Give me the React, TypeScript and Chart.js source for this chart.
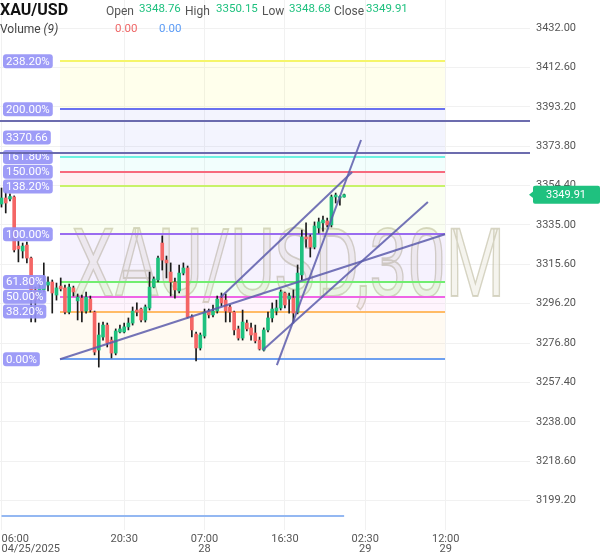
import { useEffect, useRef } from 'react';
import { Chart, registerables } from 'chart.js';
Chart.register(...registerables);

const opens = [3345.3, 3348.3, 3347.8, 3348.8, 3324.6, 3322.2, 3325.1, 3318.7, 3303.0, 3299.5,
  3303.0, 3305.4, 3306.9, 3300.5, 3304.9, 3304.0, 3292.1, 3304.0, 3297.6, 3299.0,
  3292.6, 3298.5, 3292.1, 3273.4, 3279.8, 3285.7, 3278.3, 3271.9, 3282.3, 3282.3,
  3284.8, 3286.7, 3293.1, 3293.6, 3288.2, 3294.1, 3304.4, 3307.9, 3326.1, 3317.7,
  3311.8, 3306.9, 3302.5, 3311.3, 3313.8, 3289.7, 3281.3, 3274.4, 3280.3, 3292.6,
  3290.7, 3292.6, 3299.0, 3298.0, 3294.6, 3292.1, 3283.8, 3279.3, 3286.7, 3284.3,
  3281.8, 3278.3, 3273.4, 3283.3, 3289.2, 3292.6, 3294.1, 3301.5, 3298.5, 3299.0,
  3292.1, 3310.4, 3329.1, 3329.1, 3324.1, 3333.5, 3336.0, 3337.0, 3335.0, 3348.8,
  3348.3, 3348.76];
const closes = [3348.3, 3345.8, 3349.0, 3322.7, 3323.2, 3324.6, 3318.7, 3303.0, 3298.0, 3304.0,
  3306.4, 3306.9, 3301.5, 3304.0, 3303.5, 3292.1, 3304.4, 3302.0, 3299.5, 3292.6,
  3299.5, 3293.1, 3272.4, 3280.8, 3285.7, 3276.9, 3271.9, 3282.8, 3283.8, 3284.8,
  3286.7, 3292.6, 3292.1, 3288.2, 3294.6, 3304.4, 3308.4, 3318.7, 3317.7, 3316.3,
  3306.9, 3303.0, 3311.3, 3313.8, 3289.7, 3283.3, 3274.4, 3280.8, 3292.1, 3290.7,
  3292.6, 3298.5, 3296.6, 3292.6, 3292.1, 3283.3, 3279.3, 3287.2, 3283.8, 3280.8,
  3277.9, 3273.9, 3283.3, 3289.2, 3293.6, 3294.1, 3302.0, 3295.6, 3300.0, 3291.6,
  3311.3, 3329.1, 3328.1, 3324.1, 3334.5, 3336.5, 3337.4, 3335.0, 3348.8, 3349.75,
  3349.0, 3349.91];
const highs = [3353.2, 3351.2, 3350.3, 3349.3, 3327.1, 3326.1, 3326.6, 3319.2, 3304.4, 3305.4,
  3316.3, 3309.4, 3307.9, 3306.4, 3308.9, 3305.4, 3305.9, 3304.9, 3301.0, 3300.5,
  3302.0, 3300.0, 3292.6, 3286.7, 3287.2, 3286.7, 3279.8, 3283.8, 3285.7, 3286.7,
  3289.2, 3294.6, 3296.6, 3294.1, 3295.6, 3311.8, 3309.4, 3319.7, 3329.6, 3319.7,
  3316.3, 3308.9, 3315.3, 3316.3, 3314.8, 3290.7, 3282.3, 3281.8, 3293.6, 3293.6,
  3295.6, 3300.0, 3301.5, 3301.0, 3295.6, 3292.6, 3285.2, 3293.1, 3288.2, 3286.7,
  3285.7, 3279.8, 3284.3, 3292.1, 3296.6, 3298.0, 3303.0, 3302.0, 3301.5, 3303.0,
  3315.3, 3332.5, 3336.0, 3330.1, 3336.5, 3338.4, 3339.4, 3338.4, 3349.75, 3350.7,
  3349.3, 3350.15];
const lows = [3343.8, 3340.9, 3346.8, 3321.7, 3316.8, 3318.7, 3316.3, 3287.2, 3287.2, 3298.0,
  3302.0, 3302.5, 3291.6, 3298.0, 3302.5, 3291.2, 3291.2, 3300.0, 3288.2, 3287.2,
  3291.6, 3292.1, 3271.0, 3265.0, 3278.3, 3274.9, 3269.5, 3271.0, 3281.8, 3281.8,
  3283.3, 3285.7, 3290.2, 3287.2, 3287.2, 3293.1, 3304.0, 3306.9, 3312.8, 3308.9,
  3300.0, 3299.0, 3301.5, 3310.4, 3289.2, 3279.8, 3268.0, 3273.4, 3279.3, 3289.2,
  3289.7, 3291.6, 3295.1, 3287.2, 3287.2, 3280.8, 3278.3, 3278.3, 3282.8, 3278.3,
  3276.9, 3273.4, 3272.9, 3282.3, 3287.2, 3290.7, 3293.1, 3294.1, 3291.6, 3286.7,
  3291.2, 3307.9, 3324.1, 3319.2, 3323.2, 3331.0, 3332.0, 3334.0, 3334.0, 3345.8,
  3344.8, 3348.68];
const volumes = [0, 0, 0, 0, 0, 0, 0, 0, 0, 0, 0, 0, 0, 0, 0, 0, 0, 0, 0, 0,
  0, 0, 0, 0, 0, 0, 0, 0, 0, 0, 0, 0, 0, 0, 0, 0, 0, 0, 0, 0,
  0, 0, 0, 0, 0, 0, 0, 0, 0, 0, 0, 0, 0, 0, 0, 0, 0, 0, 0, 0,
  0, 0, 0, 0, 0, 0, 0, 0, 0, 0, 0, 0, 0, 0, 0, 0, 0, 0, 0, 0, 0, 0];

const timeTickIndex = [0, 29, 48, 67, 86, 105];
const timeTickLabels = [['06:00', '04/25/2025'], '20:30', ['07:00', '28'], '16:30', ['02:30', '29'], ['12:00', '29']];
const priceTicks = [3199.2, 3218.6, 3238.0, 3257.4, 3276.8, 3296.2, 3315.6, 3335.0, 3354.4, 3373.8, 3393.2, 3412.6, 3432.0];

const fibStart = { index: 13.83, price: 3268.84 };
const fibEnd = { index: 104.85, price: 3330.44 };
const fibLevels = [0, 0.382, 0.5, 0.618, 1, 1.382, 1.5, 1.618, 2, 2.382];
const fibLabels = ['0.00%', '38.20%', '50.00%', '61.80%', '100.00%', '138.20%', '150.00%', '161.80%', '200.00%', '238.20%'];
const fibLineColors = ['#6ea0f0', '#ffbb66', '#ee66e6', '#70ee70', '#9a6cf0', '#c8f26a', '#f76a7e', '#6ef2e2', '#6a72f0', '#f5f56a'];
const fibBandColors = ['rgba(255,183,77,0.07)', 'rgba(240,98,230,0.07)', 'rgba(102,240,102,0.08)', 'rgba(155,110,240,0.09)',
  'rgba(198,240,106,0.09)', 'rgba(247,101,122,0.09)', 'rgba(110,240,230,0.09)', 'rgba(102,112,240,0.08)', 'rgba(255,255,96,0.12)'];

const trendLines = [
  [51.9, 3299.5, 82.9, 3361.1],
  [61.8, 3273.4, 100.8, 3346.3],
  [65.1, 3266.0, 85.0, 3376.85],
];
const horizontalLines = [3386.35, 3370.66];
const horizontalLabel = '3370.66';

const symbol = 'XAU/USD';
const watermark = 'XAU/USD,30M';
const ohlcLabels = ['Open', 'High', 'Low', 'Close'];
const ohlcValues = ['3348.76', '3350.15', '3348.68', '3349.91'];
const volumeValues = ['0.00', '0.00'];

const GREEN = '#1fc17f';
const RED = '#f46665';
const FONT = 'Roboto, "Noto Sans", sans-serif';

function roundRect(ctx: CanvasRenderingContext2D, x: number, y: number, w: number, h: number, r: number) {
  ctx.beginPath();
  ctx.moveTo(x + r, y);
  ctx.lineTo(x + w - r, y);
  ctx.arcTo(x + w, y, x + w, y + r, r);
  ctx.lineTo(x + w, y + h - r);
  ctx.arcTo(x + w, y + h, x + w - r, y + h, r);
  ctx.lineTo(x + r, y + h);
  ctx.arcTo(x, y + h, x, y + h - r, r);
  ctx.lineTo(x, y + r);
  ctx.arcTo(x, y, x + r, y, r);
  ctx.closePath();
}

const overlay = {
  id: 'overlay',
  beforeDatasetsDraw(chart: any) {
    const { ctx, chartArea, scales } = chart;
    const x = scales.x, y = scales.y;
    ctx.save();
    ctx.beginPath();
    ctx.rect(chartArea.left, chartArea.top, chartArea.right - chartArea.left, chartArea.bottom - chartArea.top);
    ctx.clip();
    // watermark
    ctx.save();
    ctx.font = `400 94px ${FONT}`;
    const tw = ctx.measureText(watermark).width;
    const sx = 433 / tw;
    ctx.translate(288.5, 296);
    ctx.scale(sx, 1);
    ctx.textAlign = 'center';
    ctx.textBaseline = 'alphabetic';
    ctx.fillStyle = 'rgba(236,234,222,0.5)';
    ctx.fillText(watermark, 0, 0);
    ctx.strokeStyle = 'rgba(190,186,160,0.6)';
    ctx.lineWidth = 1.8;
    ctx.strokeText(watermark, 0, 0);
    ctx.restore();
    // fib bands
    const x1 = x.getPixelForValue(fibStart.index);
    const x2 = x.getPixelForValue(fibEnd.index);
    const lvlY = (l: number) => y.getPixelForValue(fibStart.price + (fibEnd.price - fibStart.price) * l);
    for (let k = 0; k < fibLevels.length - 1; k++) {
      const ya = lvlY(fibLevels[k]);
      const yb = lvlY(fibLevels[k + 1]);
      ctx.fillStyle = fibBandColors[k];
      ctx.fillRect(x1, yb, x2 - x1, ya - yb);
    }
    ctx.lineWidth = 2;
    fibLevels.forEach((l, k) => {
      const yy = Math.round(lvlY(l));
      ctx.strokeStyle = fibLineColors[k];
      ctx.beginPath();
      ctx.moveTo(x1, yy);
      ctx.lineTo(x2, yy);
      ctx.stroke();
    });
    ctx.restore();
  },
  afterDatasetsDraw(chart: any) {
    const { ctx, chartArea, scales } = chart;
    const x = scales.x, y = scales.y;
    ctx.save();
    ctx.beginPath();
    ctx.rect(chartArea.left, chartArea.top, chartArea.right - chartArea.left, chartArea.bottom - chartArea.top);
    ctx.clip();
    ctx.strokeStyle = 'rgba(92,92,172,0.85)';
    ctx.lineWidth = 2;
    const allLines = [[fibStart.index, fibStart.price, fibEnd.index, fibEnd.price], ...trendLines];
    allLines.forEach((ln) => {
      ctx.beginPath();
      ctx.moveTo(x.getPixelForValue(ln[0]), y.getPixelForValue(ln[1]));
      ctx.lineTo(x.getPixelForValue(ln[2]), y.getPixelForValue(ln[3]));
      ctx.stroke();
    });
    // fib labels
    const lvlY = (l: number) => y.getPixelForValue(fibStart.price + (fibEnd.price - fibStart.price) * l);
    ctx.font = `11.5px ${FONT}`;
    ctx.textBaseline = 'middle';
    ctx.textAlign = 'left';
    const drawLabel = (text: string, cy: number) => {
      const w = ctx.measureText(text).width + 6;
      ctx.fillStyle = 'rgba(150,148,246,0.92)';
      roundRect(ctx, 3, cy - 7, w, 14, 3);
      ctx.fill();
      ctx.fillStyle = '#ffffff';
      ctx.fillText(text, 6, cy + 0.5);
    };
    fibLevels.forEach((l, k) => drawLabel(fibLabels[k], lvlY(l)));
    drawLabel(horizontalLabel, y.getPixelForValue(horizontalLines[1]) - 15);
    // horizontal lines
    ctx.strokeStyle = 'rgba(100,100,170,0.95)';
    ctx.lineWidth = 2;
    horizontalLines.forEach((p) => {
      const yy = Math.round(y.getPixelForValue(p));
      ctx.beginPath();
      ctx.moveTo(chartArea.left, yy);
      ctx.lineTo(chartArea.right, yy);
      ctx.stroke();
    });
    ctx.restore();
  },
  afterDraw(chart: any) {
    const { ctx, scales } = chart;
    const y = scales.y;
    ctx.save();
    // header
    ctx.textBaseline = 'alphabetic';
    ctx.textAlign = 'left';
    ctx.fillStyle = '#111';
    ctx.font = `bold 16px ${FONT}`;
    ctx.fillText(symbol, 0, 15);
    const lblX = [106, 185, 262, 334];
    const valX = [139, 216, 289, 366];
    ohlcLabels.forEach((t, i) => {
      ctx.font = `12px ${FONT}`;
      ctx.fillStyle = '#555';
      ctx.fillText(t, lblX[i], 15);
      ctx.font = `11.5px ${FONT}`;
      ctx.fillStyle = GREEN;
      ctx.fillText(ohlcValues[i], valX[i], 12);
    });
    ctx.font = `12px ${FONT}`;
    ctx.fillStyle = '#444';
    ctx.fillText('Volume ', 0, 33);
    const vw = ctx.measureText('Volume ').width;
    ctx.font = `italic 12px ${FONT}`;
    ctx.fillText('(9)', vw, 33);
    ctx.font = `11.5px ${FONT}`;
    ctx.fillStyle = '#ee6666';
    ctx.fillText(volumeValues[0], 115, 32);
    ctx.fillStyle = '#5b9bf5';
    ctx.fillText(volumeValues[1], 159, 32);
    // last price tag
    const last = closes[closes.length - 1];
    const py = y.getPixelForValue(last);
    ctx.fillStyle = GREEN;
    roundRect(ctx, 533, py - 9, 67, 18, 2);
    ctx.fill();
    ctx.beginPath();
    ctx.moveTo(529, py);
    ctx.lineTo(534, py - 4);
    ctx.lineTo(534, py + 4);
    ctx.closePath();
    ctx.fill();
    ctx.fillStyle = '#fff';
    ctx.font = `11px ${FONT}`;
    ctx.textBaseline = 'middle';
    ctx.textAlign = 'center';
    ctx.fillText(last.toFixed(2), 566, py + 0.5);
    ctx.restore();
  },
};

export default function App() {
  const ref = useRef<HTMLCanvasElement>(null);
  useEffect(() => {
    if (!ref.current) return;
    Chart.defaults.font.family = FONT;
    const idx = opens.map((_, i) => i);
    const xMin = (0 - 1.5) / 4.23;
    const xMax = (530 - 1.5) / 4.23;
    const yMax = 3445.79;
    const yMin = 3445.79 - 530 / 2.0305;
    const bodyColors = opens.map((o, i) => (closes[i] >= o ? GREEN : RED));
    const noPad = (s: any) => {
      s.paddingTop = 0;
      s.paddingBottom = 0;
      s.paddingLeft = 0;
      s.paddingRight = 0;
    };
    const chart = new Chart(ref.current, {
      type: 'bar',
      data: {
        datasets: [
          {
            type: 'line',
            data: idx.map((i) => ({ x: i, y: volumes[i] })),
            yAxisID: 'yVol',
            borderColor: '#94b8f2',
            borderWidth: 2,
            pointRadius: 0,
            order: 3,
          } as any,
          {
            data: idx.map((i) => ({ x: i, y: [lows[i], highs[i]] })),
            backgroundColor: '#1a1a1a',
            barThickness: 1,
            grouped: false,
            minBarLength: 1,
            order: 2,
          } as any,
          {
            data: idx.map((i) => ({ x: i, y: [opens[i], closes[i]] })),
            backgroundColor: bodyColors,
            barThickness: 3,
            grouped: false,
            minBarLength: 1,
            order: 1,
          } as any,
        ],
      },
      options: {
        animation: false,
        responsive: false,
        devicePixelRatio: 1,
        layout: { padding: 0 },
        plugins: { legend: { display: false }, tooltip: { enabled: false } },
        scales: {
          x: {
            type: 'linear',
            min: xMin,
            max: xMax,
            offset: false,
            border: { display: false },
            grid: {
              offset: false,
              drawTicks: false,
              color: (c: any) => (c.index === timeTickIndex.length ? 'rgba(0,0,0,0)' : '#f1f1f1'),
            },
            ticks: {
              autoSkip: false,
              maxRotation: 0,
              align: 'inner',
              padding: 4,
              color: '#555',
              font: { size: 11, lineHeight: 0.95 },
              callback: (v: any, i: number) => (i < timeTickLabels.length ? timeTickLabels[i] : ''),
            },
            afterBuildTicks: (s: any) => {
              s.ticks = [...timeTickIndex.map((v) => ({ value: v })), { value: xMax }];
            },
            afterFit: (s: any) => {
              s.height = 28;
              noPad(s);
            },
          },
          y: {
            position: 'right',
            min: yMin,
            max: yMax,
            border: { display: false },
            grid: { drawTicks: false, color: '#f1f1f1' },
            ticks: {
              padding: 6,
              color: '#555',
              font: { size: 11 },
              callback: (v: any) => Number(v).toFixed(2),
            },
            afterBuildTicks: (s: any) => {
              s.ticks = priceTicks.map((v) => ({ value: v }));
            },
            afterFit: (s: any) => {
              s.width = 70;
              noPad(s);
            },
          },
          yVol: { display: false, min: -14, max: 516 },
        },
      } as any,
      plugins: [overlay],
    });
    return () => chart.destroy();
  }, []);
  return (
    <div style={{ position: 'fixed', left: 0, top: 0, width: 600, height: 558, background: '#fff' }}>
      <canvas ref={ref} width={600} height={558} style={{ display: 'block' }} />
    </div>
  );
}
